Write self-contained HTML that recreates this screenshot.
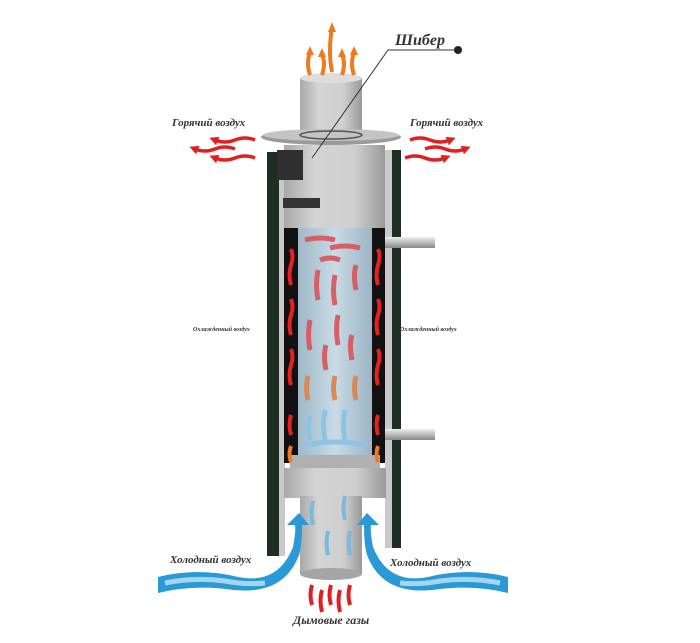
<!DOCTYPE html>
<html><head><meta charset="utf-8"><style>
html,body{margin:0;padding:0;background:#fff;}
svg{display:block}
text{font-family:"Liberation Serif","DejaVu Serif",serif;font-style:italic;font-weight:bold;fill:#333}
</style></head><body>
<svg width="700" height="643" viewBox="0 0 700 643" xmlns="http://www.w3.org/2000/svg">
<defs>
<linearGradient id="g" x1="0" x2="1"><stop offset="0" stop-color="#a8a8a8"/><stop offset="0.3" stop-color="#d4d4d4"/><stop offset="0.7" stop-color="#cfcfcf"/><stop offset="1" stop-color="#9a9a9a"/></linearGradient>
<linearGradient id="b" x1="0" x2="1"><stop offset="0" stop-color="#9fb8c8"/><stop offset="0.5" stop-color="#c8dbe6"/><stop offset="1" stop-color="#9cb4c4"/></linearGradient>
<linearGradient id="p" x1="0" y1="0" x2="0" y2="1"><stop offset="0" stop-color="#eee"/><stop offset="0.5" stop-color="#bbb"/><stop offset="1" stop-color="#888"/></linearGradient>
<marker id="ar" markerUnits="userSpaceOnUse" markerWidth="9" markerHeight="9" refX="3" refY="4.5" orient="auto"><path d="M0,0L9,4.5L0,9z" fill="#e02020"/></marker>
<marker id="au" markerUnits="userSpaceOnUse" markerWidth="8" markerHeight="8" refX="2" refY="4" orient="auto"><path d="M0,0L8,4L0,8z" fill="#e02020"/></marker>
</defs>
<!-- top pipe -->
<rect x="300" y="78" width="62" height="60" fill="url(#g)"/>
<ellipse cx="331" cy="78" rx="31" ry="5" fill="#ddd"/>
<g stroke="#f07a20" stroke-width="4" fill="none">
<path d="M310,75 q-4,-12 0,-22"/><path d="M322,75 q4,-12 0,-20"/><path d="M332,72 q-4,-20 0,-45"/><path d="M342,75 q4,-12 0,-20"/><path d="M354,75 q-4,-12 0,-22"/>
</g>
<g fill="#f07a20"><path d="M306,55l4,-9l4,9z"/><path d="M318,57l4,-9l4,9z"/><path d="M328,32l4,-10l4,10z"/><path d="M338,57l4,-9l4,9z"/><path d="M350,55l4,-9l4,9z"/></g>
<!-- flange -->
<ellipse cx="331" cy="137" rx="70" ry="8" fill="#9a9a9a"/>
<ellipse cx="331" cy="135" rx="68" ry="6" fill="#c4c4c4"/>
<ellipse cx="331" cy="135" rx="31" ry="4" fill="none" stroke="#555" stroke-width="1.5"/>
<!-- casings -->
<rect x="267" y="152" width="12" height="404" fill="#1f2e25"/>
<rect x="392" y="150" width="9" height="398" fill="#1f2e25"/>
<rect x="279" y="152" width="6" height="404" fill="#c9c9c9"/>
<rect x="385" y="150" width="7" height="398" fill="#c9c9c9"/>
<!-- main cylinder -->
<rect x="284" y="145" width="101" height="85" fill="url(#g)"/>
<rect x="283" y="198" width="37" height="10" fill="#333"/>
<rect x="277" y="150" width="26" height="30" fill="#2f2f2f"/>
<!-- gaps -->
<rect x="284" y="228" width="14" height="235" fill="#111"/>
<rect x="372" y="228" width="13" height="235" fill="#111"/>
<rect x="298" y="228" width="74" height="230" fill="url(#b)"/>
<rect x="290" y="455" width="90" height="16" fill="#b0b0b0"/>
<rect x="284" y="468" width="102" height="30" fill="url(#g)"/>
<!-- bottom pipe -->
<rect x="300" y="496" width="62" height="78" fill="url(#g)"/>
<ellipse cx="331" cy="574" rx="31" ry="6" fill="#a5a5a5"/>
<rect x="385" y="237" width="50" height="11" fill="url(#p)"/>
<rect x="385" y="429" width="50" height="11" fill="url(#p)"/>
<!-- red arrows in gaps -->
<g stroke="#e82020" stroke-width="4" fill="none">
<path d="M291,285 q-3,-10 0,-20 q3,-8 0,-16"/><path d="M291,335 q-3,-10 0,-20 q3,-8 0,-16"/><path d="M291,385 q-3,-10 0,-20 q3,-8 0,-16"/><path d="M291,435 q-3,-10 0,-20"/>
<path d="M378,285 q-3,-10 0,-20 q3,-8 0,-16"/><path d="M378,335 q-3,-10 0,-20 q3,-8 0,-16"/><path d="M378,385 q-3,-10 0,-20 q3,-8 0,-16"/><path d="M378,435 q-3,-10 0,-20"/>
</g>
<g stroke="#f07a20" stroke-width="4" fill="none"><path d="M291,462 q-3,-8 0,-16"/><path d="M378,462 q-3,-8 0,-16"/></g>
<g stroke="#d9545a" stroke-width="5" fill="none" opacity="0.9">
<path d="M305,240 q15,-4 30,0"/><path d="M330,248 q15,-4 30,0"/><path d="M320,260 q10,-4 20,0"/>
<path d="M318,300 q-3,-15 0,-30"/><path d="M335,305 q-3,-15 0,-30"/><path d="M356,290 q-3,-15 0,-25"/>
<path d="M310,350 q-3,-15 0,-30"/><path d="M338,345 q-3,-15 0,-30"/><path d="M326,370 q-3,-15 0,-25"/><path d="M352,360 q-3,-15 0,-25"/>
</g>
<g stroke="#d78a58" stroke-width="5" fill="none"><path d="M308,400 q-3,-12 0,-24"/><path d="M335,400 q-3,-12 0,-24"/><path d="M356,400 q-3,-12 0,-24"/></g>
<g stroke="#8cc4e2" stroke-width="5" fill="none"><path d="M310,440 q-3,-12 0,-24"/><path d="M325,440 q-3,-15 0,-30"/><path d="M345,440 q-3,-15 0,-30"/><path d="M305,445 q30,-6 60,0"/></g>
<g stroke="#7ab8dc" stroke-width="4" fill="none"><path d="M313,525 q-3,-12 0,-24"/><path d="M328,555 q-3,-12 0,-24"/><path d="M345,520 q-3,-12 0,-24"/><path d="M350,555 q-3,-12 0,-24"/></g>
<!-- cold air -->
<path d="M158,577 q40,-10 80,0 q40,8 55,-30 q3,-15 2,-22 l-8,0 l12,-12 l10,12 l-7,0 q0,20 -3,30 q-15,40 -65,35 q-40,-6 -76,3z" fill="#2a9ad6"/>
<path d="M165,583 q30,-6 60,-2 q20,4 40,2" stroke="#a5d6f0" stroke-width="5" fill="none"/>
<path d="M508,577 q-40,-10 -80,0 q-40,8 -55,-30 q-3,-15 -2,-22 l8,0 l-12,-12 l-10,12 l7,0 q0,20 3,30 q15,40 65,35 q40,-6 76,3z" fill="#2a9ad6"/>
<path d="M500,583 q-30,-6 -60,-2 q-20,4 -40,2" stroke="#a5d6f0" stroke-width="5" fill="none"/>
<g stroke="#e02020" stroke-width="4" fill="none"><path d="M312,605 q-3,-10 0,-20"/><path d="M322,612 q-3,-12 0,-22"/><path d="M331,605 q-3,-10 0,-20"/><path d="M340,612 q-3,-12 0,-22"/><path d="M350,605 q-3,-10 0,-20"/></g>
<!-- hot air -->
<g stroke="#e02020" stroke-width="3.5" fill="none" marker-end="url(#ar)">
<path d="M255,140 q-10,-4 -20,0 q-10,4 -20,0"/><path d="M235,149 q-10,-4 -20,0 q-10,4 -20,0"/><path d="M255,158 q-10,-4 -20,0 q-10,4 -20,0"/>
<path d="M410,140 q10,-4 20,0 q10,4 20,0"/><path d="M425,149 q10,-4 20,0 q10,4 20,0"/><path d="M405,158 q10,-4 20,0 q10,4 20,0"/>
</g>
<line x1="388" y1="50" x2="458" y2="50" stroke="#333" stroke-width="1"/>
<line x1="388" y1="50" x2="312" y2="158" stroke="#333" stroke-width="1"/>
<circle cx="458" cy="50" r="4" fill="#222"/>
<text x="395" y="45" font-size="16">Шибер</text>
<text x="172" y="126" font-size="11">Горячий воздух</text>
<text x="410" y="126" font-size="11">Горячий воздух</text>
<text x="193" y="331" font-size="6" font-weight="normal">Охлажденный воздух</text>
<text x="400" y="331" font-size="6" font-weight="normal">Охлажденный воздух</text>
<text x="170" y="563" font-size="11">Холодный воздух</text>
<text x="390" y="566" font-size="11">Холодный воздух</text>
<text x="293" y="624" font-size="12">Дымовые газы</text>
</svg>
</body></html>
